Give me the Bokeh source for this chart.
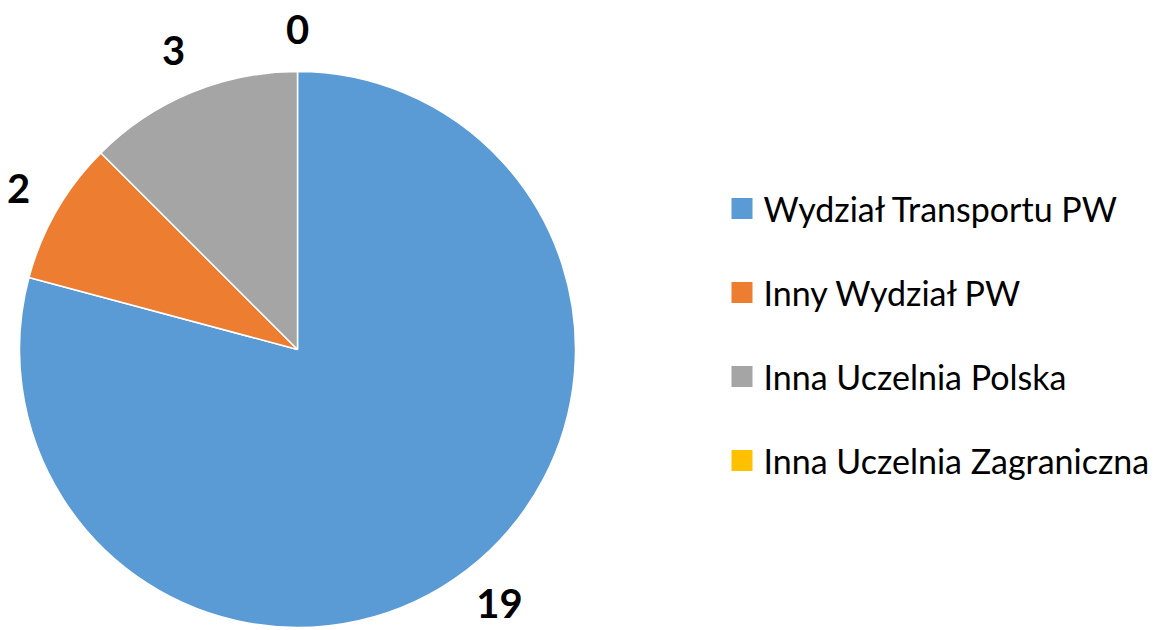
import math
from bokeh.plotting import figure
from bokeh.models import Range1d, ColumnDataSource
from bokeh.core.properties import value
from bokeh.embed import file_html
from bokeh.resources import INLINE

categories = ["Wydział Transportu PW", "Inny Wydział PW", "Inna Uczelnia Polska", "Inna Uczelnia Zagraniczna"]
values = [19, 2, 3, 0]
colors = ["#5B9BD5", "#ED7D31", "#A5A5A5", "#FFC000"]

W, H = 1155, 628
p = figure(width=W, height=H, output_backend="svg", toolbar_location=None,
           x_range=Range1d(0, W), y_range=Range1d(0, H), min_border=0)
p.axis.visible = False
p.grid.visible = False
p.outline_line_color = None
p.background_fill_color = "white"

def Y(py):
    return H - py

cx, cy, R = 297, Y(349), 278
total = sum(values)
starts, ends, mids = [], [], []
a = math.pi / 2
for v in values:
    sweep = 2 * math.pi * v / total
    starts.append(a)
    ends.append(a - sweep)
    mids.append(a - sweep / 2)
    a -= sweep

keep = [i for i, v in enumerate(values) if v > 0]
src = ColumnDataSource(dict(start=[starts[i] for i in keep], end=[ends[i] for i in keep],
                            color=[colors[i] for i in keep]))
p.wedge(x=cx, y=cy, radius=R, start_angle="end", end_angle="start",
        fill_color="color", line_color="white", line_width=1.5, source=src)

FONT = "Lato"
FS = 40
lx, ly, lt = [], [], []
for v, m in zip(values, mids):
    w = len(str(v)) * 24 + 6
    h = 44
    ext = abs(math.cos(m)) * w / 2 + abs(math.sin(m)) * h / 2
    r = R + 20 + ext
    lx.append(cx + r * math.cos(m))
    ly.append(max(cy + r * math.sin(m), FS * 0.62))
    lt.append(str(v))
p.text(x=lx, y=ly, text=lt, text_font=value(FONT), text_font_style="bold",
       text_font_size=f"{FS}px", text_align="center", text_baseline="middle",
       text_color="black")

# legend
row0 = Y(208)
step = 84
for i, (c, col) in enumerate(zip(categories, colors)):
    y = row0 - i * step
    p.rect(x=741.5, y=y, width=21, height=21, fill_color=col, line_color=None)
    p.text(x=[763], y=[y], text=[c], text_font=value(FONT), text_font_size="34px",
           text_align="left", text_baseline="middle", text_color="black")

open("out.html", "w").write(file_html(p, INLINE))
